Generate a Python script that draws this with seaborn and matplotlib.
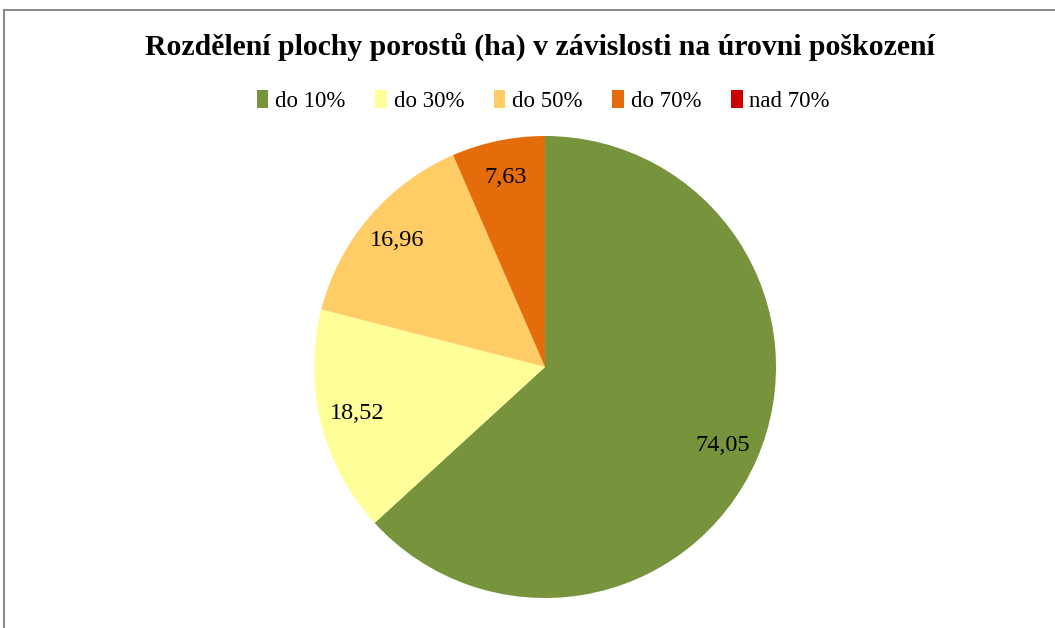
import matplotlib
matplotlib.use('Agg')
import matplotlib.pyplot as plt
import seaborn as sns
from matplotlib.patches import Rectangle, Patch

# data
categories = ['do 10%', 'do 30%', 'do 50%', 'do 70%', 'nad 70%']
values = [74.05, 18.52, 16.96, 7.63, 0.0]
colors = ['#77933C', '#FFFF99', '#FFCC66', '#E46C0A', '#CC0000']
title = 'Rozdělení plochy porostů (ha) v závislosti na úrovni poškození'

sns.set_theme(style='white')
plt.rcParams['font.family'] = ['Liberation Serif', 'DejaVu Serif']
plt.rcParams['text.color'] = 'black'

fig = plt.figure(figsize=(10.55, 6.28), dpi=100)
# frame around chart area
fig.patches.append(Rectangle((4 / 1055, -0.1), 1.2, (618 / 628) + 0.1, transform=fig.transFigure,
                             fill=False, edgecolor='#8c8c8c', linewidth=1.5))

r = 231 / 628
cx, cy = 545 / 1055, 1 - 367 / 628
ax = fig.add_axes([cx - r * 628 / 1055, cy - r, 2 * r * 628 / 1055, 2 * r])

total = sum(values)


def fmt(pct):
    v = pct * total / 100
    if v <= 0.001:
        return ''
    return f'{v:.2f}'.replace('.', ',')


wedges, texts, autotexts = ax.pie(values, colors=colors, startangle=90, counterclock=False,
                                  autopct=fmt, pctdistance=0.84, radius=1,
                                  wedgeprops=dict(linewidth=0),
                                  textprops=dict(fontsize=17.5, color='black'))
ax.set_xlim(-1, 1)
ax.set_ylim(-1, 1)
ax.set_aspect('equal')

fig.text(0.512, 1 - 47 / 628, title, ha='center', va='center', fontsize=21.4,
         fontweight='bold', color='black')

handles = [Patch(facecolor=c, edgecolor='none') for c in colors]
fig.legend(handles, categories, loc='center', bbox_to_anchor=(0.515, 1 - 101 / 628), ncol=5,
           frameon=False, fontsize=16.5, handlelength=0.5, handleheight=0.8, handletextpad=0.3,
           columnspacing=1.3, labelcolor='black')

fig.savefig('out.png', dpi=100)
